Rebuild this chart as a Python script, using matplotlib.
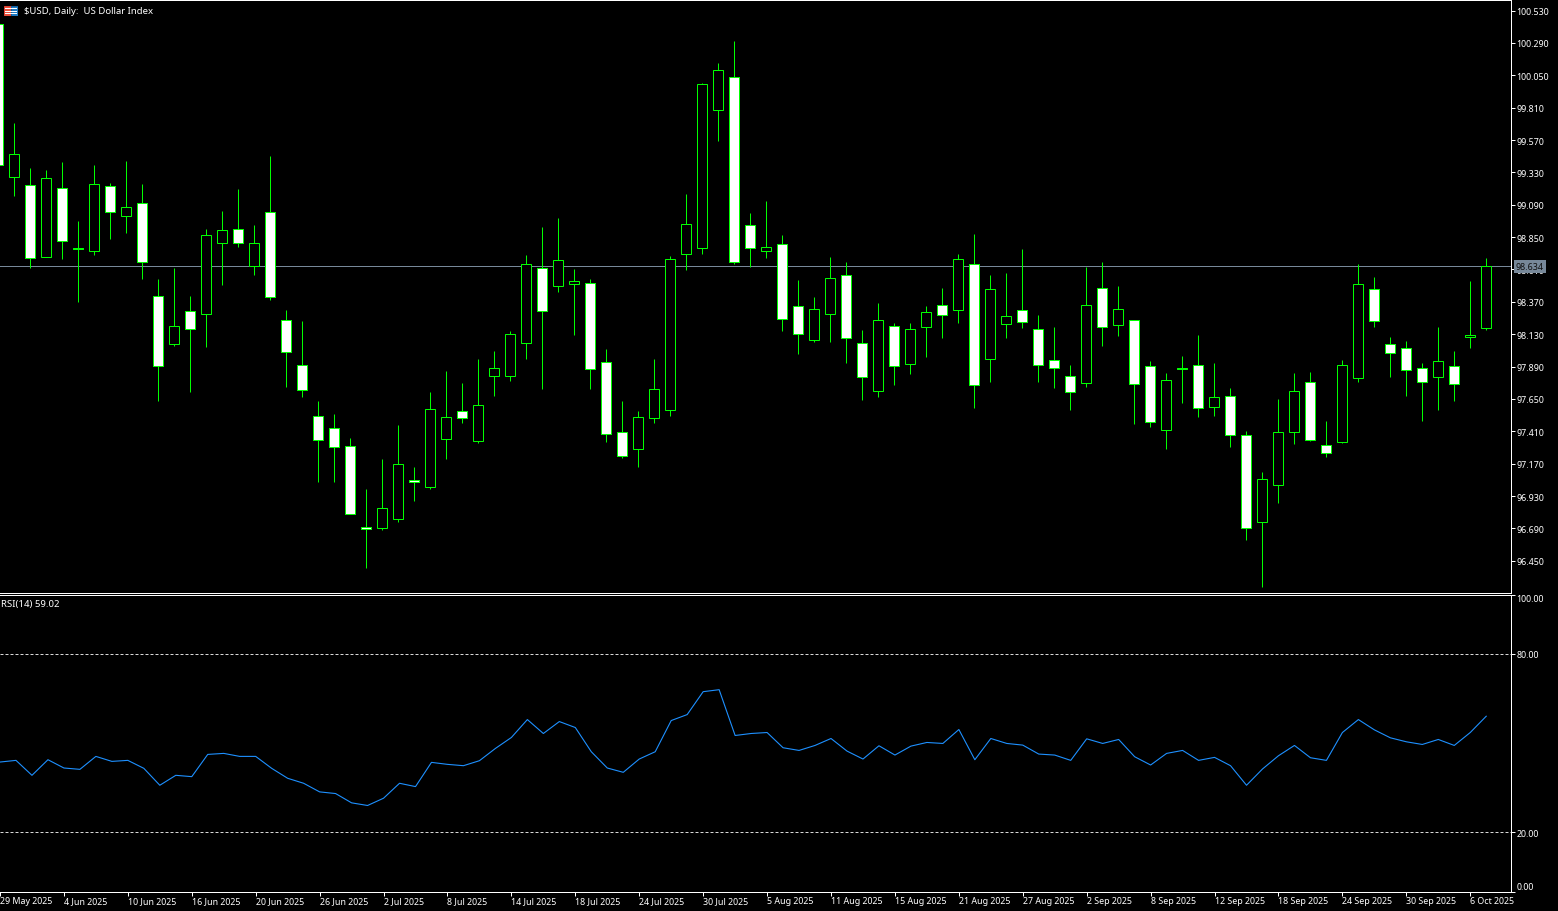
import matplotlib
matplotlib.use('Agg')
import matplotlib.pyplot as plt
from matplotlib.patches import Rectangle

# Figure
WIDTH = 1558
HEIGHT = 912
DPI = 100
PX = 72 / DPI  # one pixel in points
FONT = 'Noto Sans'
FONT_SIZE = 6.4
TITLE_SIZE = 6.9

GREEN = '#00FF00'
WHITE = '#FFFFFF'
BID_COLOUR = '#778899'
RSI_COLOUR = '#1E90FF'

TITLE = '$USD, Daily:  US Dollar Index'
RSI_TITLE = 'RSI(14) 59.02'
LAST_PRICE = 98.634

# Daily candles, oldest first (the first one is cut by the left edge)
opens = [
    100.428, 99.297, 99.237, 98.704, 99.215, 98.770, 98.748, 99.230, 99.005, 99.104,
    98.415, 98.056, 98.303, 98.278, 98.807, 98.911, 98.637, 99.037, 98.237, 97.903,
    97.525, 97.436, 97.303, 96.702, 96.692, 96.761, 97.051, 96.999, 97.354, 97.562,
    97.340, 97.822, 97.822, 98.066, 98.622, 98.489, 98.504, 98.511, 97.925, 97.406,
    97.280, 97.510, 97.569, 98.726, 98.770, 99.793, 100.038, 98.941, 98.748, 98.800,
    98.340, 98.088, 98.281, 98.570, 98.066, 97.710, 98.192, 97.910, 98.185, 98.348,
    98.311, 98.652, 97.948, 98.207, 98.311, 98.170, 97.940, 97.822, 97.770, 98.474,
    98.200, 98.237, 97.896, 97.421, 97.883, 97.903, 97.592, 97.673, 97.384, 96.739,
    97.013, 97.406, 97.777, 97.310, 97.332, 97.807, 98.466, 98.059, 98.029, 97.881,
    97.814, 97.896, 98.111, 98.177,
]
highs = [
    100.433, 99.699, 99.366, 99.351, 99.410, 98.973, 99.388, 99.254, 99.418, 99.247,
    98.543, 98.624, 98.417, 98.913, 99.047, 99.210, 98.943, 99.455, 98.313, 98.231,
    97.638, 97.542, 97.357, 96.986, 97.208, 97.460, 97.149, 97.698, 97.861, 97.772,
    97.950, 98.002, 98.157, 98.721, 98.928, 98.995, 98.610, 98.543, 98.024, 97.638,
    97.564, 97.950, 98.713, 99.173, 99.996, 100.144, 100.307, 99.032, 99.121, 98.869,
    98.535, 98.409, 98.706, 98.669, 98.165, 98.365, 98.217, 98.217, 98.343, 98.476,
    98.728, 98.876, 98.572, 98.587, 98.765, 98.276, 98.180, 97.905, 98.632, 98.669,
    98.491, 98.239, 97.935, 97.846, 97.972, 98.128, 97.920, 97.735, 97.416, 97.105,
    97.653, 97.846, 97.853, 97.483, 97.942, 98.654, 98.558, 98.113, 98.083, 97.920,
    98.180, 98.002, 98.528, 98.698,
]
lows = [
    99.386, 99.153, 98.619, 98.704, 98.686, 98.367, 98.716, 98.834, 98.879, 98.538,
    97.633, 98.041, 97.700, 98.034, 98.493, 98.775, 98.567, 98.382, 97.737, 97.663,
    97.033, 97.033, 96.799, 96.395, 96.677, 96.736, 96.892, 96.984, 97.206, 97.470,
    97.322, 97.670, 97.782, 97.945, 97.722, 98.441, 98.122, 97.722, 97.329, 97.211,
    97.144, 97.470, 97.522, 98.604, 98.723, 99.561, 98.649, 98.627, 98.693, 98.152,
    97.982, 98.071, 98.071, 97.915, 97.641, 97.663, 97.752, 97.833, 97.959, 98.100,
    98.211, 97.581, 97.774, 98.100, 98.174, 97.774, 97.730, 97.567, 97.737, 98.041,
    98.115, 97.463, 97.441, 97.277, 97.618, 97.515, 97.522, 97.292, 96.603, 96.254,
    96.877, 97.314, 97.337, 97.218, 97.325, 97.774, 98.182, 97.811, 97.670, 97.485,
    97.567, 97.633, 98.026, 98.160,
]
closes = [
    99.386, 99.467, 98.696, 99.289, 98.822, 98.765, 99.245, 99.037, 99.074, 98.667,
    97.893, 98.192, 98.167, 98.867, 98.904, 98.807, 98.807, 98.407, 97.999, 97.718,
    97.347, 97.295, 96.799, 96.687, 96.843, 97.169, 97.036, 97.577, 97.518, 97.510,
    97.607, 97.881, 98.133, 98.652, 98.303, 98.681, 98.526, 97.873, 97.392, 97.228,
    97.518, 97.725, 98.689, 98.948, 99.986, 100.090, 98.667, 98.770, 98.778, 98.244,
    98.133, 98.318, 98.548, 98.103, 97.814, 98.237, 97.896, 98.170, 98.296, 98.274,
    98.689, 97.755, 98.466, 98.266, 98.222, 97.903, 97.881, 97.703, 98.348, 98.185,
    98.318, 97.762, 97.480, 97.792, 97.870, 97.584, 97.666, 97.384, 96.695, 97.058,
    97.406, 97.710, 97.347, 97.251, 97.903, 98.504, 98.229, 97.992, 97.866, 97.777,
    97.933, 97.762, 98.125, 98.634,
]
rsi = [
    43.59, 44.15, 39.12, 44.37, 41.58, 41.13, 45.49, 43.81, 44.15, 41.47,
    35.77, 39.12, 38.67, 46.16, 46.50, 45.49, 45.49, 41.47, 38.12, 36.44,
    33.54, 32.98, 29.85, 28.96, 31.41, 36.44, 35.32, 43.48, 42.81, 42.36,
    44.04, 48.17, 51.86, 57.89, 53.20, 57.22, 55.21, 47.06, 41.58, 40.13,
    44.60, 47.06, 57.56, 59.57, 67.28, 67.95, 52.53, 53.20, 53.53, 48.40,
    47.50, 49.18, 51.52, 47.28, 44.60, 49.07, 45.94, 48.95, 50.18, 49.85,
    54.54, 44.37, 51.52, 49.85, 49.29, 46.27, 45.94, 44.15, 51.41, 49.85,
    51.19, 45.38, 42.59, 46.50, 47.50, 44.15, 45.16, 42.36, 35.77, 41.25,
    45.71, 49.18, 45.04, 44.15, 53.53, 57.89, 54.43, 51.75, 50.41, 49.51,
    51.19, 49.18, 53.53, 59.02,
]

# Axis labels
date_labels = [
    '29 May 2025', '4 Jun 2025', '10 Jun 2025', '16 Jun 2025', '20 Jun 2025', '26 Jun 2025',
    '2 Jul 2025', '8 Jul 2025', '14 Jul 2025', '18 Jul 2025', '24 Jul 2025', '30 Jul 2025',
    '5 Aug 2025', '11 Aug 2025', '15 Aug 2025', '21 Aug 2025', '27 Aug 2025', '2 Sep 2025',
    '8 Sep 2025', '12 Sep 2025', '18 Sep 2025', '24 Sep 2025', '30 Sep 2025', '6 Oct 2025',
]
price_ticks = [100.53, 100.29, 100.05, 99.81, 99.57, 99.33, 99.09, 98.85, 98.61,
               98.37, 98.13, 97.89, 97.65, 97.41, 97.17, 96.93, 96.69, 96.45]
rsi_ticks = [100, 80, 20, 0]


def panel(fig, top, bottom, right=1511):
    """Axes from pixel edges measured from the top left of the picture"""
    ax = fig.add_axes([0, 1 - bottom / HEIGHT, right / WIDTH, (bottom - top) / HEIGHT])
    ax.set_facecolor('black')
    ax.spines['left'].set_visible(False)
    for side in ['top', 'right', 'bottom']:
        ax.spines[side].set_color(WHITE)
        ax.spines[side].set_linewidth(PX)
    ax.set_xlim(0.12, 94.55)
    ax.yaxis.tick_right()
    ax.tick_params(axis='both', colors=WHITE, length=4 * PX, width=PX, pad=1,
                   labelsize=FONT_SIZE)
    ax.tick_params(axis='x', pad=0.5)
    return ax


def draw_candles(ax):
    x = list(range(len(opens)))
    ax.vlines(x, lows, highs, color=GREEN, linewidth=PX, zorder=3)
    for i in x:
        bottom = min(opens[i], closes[i])
        height = abs(opens[i] - closes[i])
        fill = 'black' if closes[i] > opens[i] else WHITE
        ax.bar(x[i], height, bottom=bottom, width=9.5 / 16, facecolor=fill, edgecolor=GREEN,
               linewidth=PX, zorder=4)


def draw_icon(fig):
    icon = fig.add_axes([3 / WIDTH, 1 - 17 / HEIGHT, 15 / WIDTH, 11 / HEIGHT])
    icon.set_xlim(0, 15)
    icon.set_ylim(11, 0)
    icon.axis('off')
    icon.add_patch(Rectangle((0.5, 0.5), 7, 10, facecolor='#E8503C', edgecolor='#E04030', linewidth=PX))
    icon.add_patch(Rectangle((7.5, 0.5), 7, 10, facecolor='#1E78C0', edgecolor='#1060A0', linewidth=PX))
    for row in [3, 5.5, 8]:
        icon.plot([2, 13], [row, row], color=WHITE, linewidth=PX)


def main():
    plt.rcParams['font.family'] = [FONT, 'DejaVu Sans']
    fig = plt.figure(figsize=(WIDTH / DPI, HEIGHT / DPI), dpi=DPI, facecolor='black')

    # Price panel
    ax1 = panel(fig, 0.5, 593.5)
    ax1.set_ylim(96.215, 100.612)
    ax1.axhline(LAST_PRICE, color=BID_COLOUR, linewidth=PX, zorder=2)
    draw_candles(ax1)
    ax1.set_xticks([])
    ax1.set_yticks(price_ticks, [f'{tick:.3f}' for tick in price_ticks])
    fig.text(24 / WIDTH, 1 - 11.5 / HEIGHT, TITLE, color=WHITE, fontsize=TITLE_SIZE, va='center')
    draw_icon(fig)
    # Current price flag over the tick labels
    ax1.annotate(f'{LAST_PRICE:.3f}', xy=(1, LAST_PRICE), xycoords=('axes fraction', 'data'),
                 xytext=(5 * PX, 0), textcoords='offset points', va='center', ha='left',
                 color='#101010', fontsize=FONT_SIZE,
                 bbox=dict(boxstyle='square,pad=0.25', facecolor=BID_COLOUR, edgecolor='none'))

    # RSI panel
    ax2 = panel(fig, 595.5, 892.5)
    ax2.set_ylim(0, 99.6)
    ax2.plot(range(len(rsi)), rsi, color=RSI_COLOUR, linewidth=0.8, zorder=3)
    for level in [80, 20]:
        ax2.axhline(level, color='#D8D8D8', linewidth=PX, dashes=(3, 2))
    ax2.set_yticks(rsi_ticks, [f'{tick:.2f}' for tick in rsi_ticks])
    labels = ax2.get_yticklabels()
    labels[0].set_va('top')
    labels[3].set_va('bottom')
    ax2.set_xticks(range(0, len(rsi), 4)[:len(date_labels)], date_labels, ha='left')
    fig.text(1 / WIDTH, 1 - 604.5 / HEIGHT, RSI_TITLE, color=WHITE, fontsize=TITLE_SIZE, va='center')

    fig.savefig('out.png', dpi=DPI, facecolor='black')


if __name__ == '__main__':
    main()
